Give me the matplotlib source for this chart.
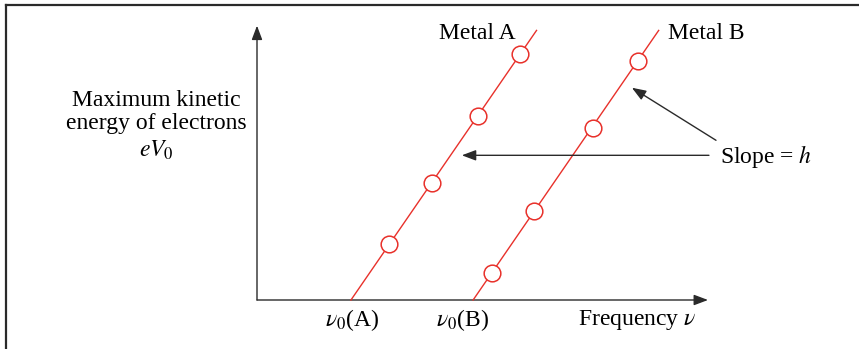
import matplotlib
matplotlib.use("Agg")
import matplotlib.pyplot as plt
from matplotlib.lines import Line2D

plt.rcParams['font.family'] = ['Liberation Serif', 'DejaVu Serif']
plt.rcParams['mathtext.fontset'] = 'stix'

# ---- data (arbitrary units, slope h = 1) ----
nu0_A = 2.0
nu0_B = 4.6
lineA_freq = [2.0, 5.95]
lineA_energy = [0.0, 3.95]
lineB_freq = [4.6, 8.55]
lineB_energy = [0.0, 3.95]
freqA = [2.82, 3.72, 4.70, 5.60]
energyA = [0.82, 1.72, 2.70, 3.60]
freqB = [5.0, 5.9, 7.15, 8.1]
energyB = [0.4, 1.3, 2.52, 3.5]
tick_labels = [r'$\nu_0$(A)', r'$\nu_0$(B)']

RED = '#e8312b'
DARK = '#2a2a2a'
FS = 17

fig = plt.figure(figsize=(8.59, 3.49), dpi=100)
ax = fig.add_axes([0, 0, 1, 1])
# pixel mapping: origin at (257, 300) px from top-left; 46.98 px / x-unit, 68.25 px / y-unit
px_x, px_y = 46.98, 68.25
ax.set_xlim(-257 / px_x, (859 - 257) / px_x)
ax.set_ylim(-49 / px_y, 300 / px_y)
ax.axis('off')

# frame lines (top and left)
fig.add_artist(Line2D([6 / 859, 6 / 859], [0, 1 - 5 / 349], transform=fig.transFigure,
                      color=DARK, lw=1.6))
fig.add_artist(Line2D([6 / 859, 1], [1 - 5 / 349, 1 - 5 / 349], transform=fig.transFigure,
                      color=DARK, lw=1.6))

axstyle = dict(arrowstyle='-|>,head_length=0.85,head_width=0.32', color=DARK, lw=1.0,
               mutation_scale=10, shrinkA=0, shrinkB=0)
# axes
ax.annotate('', xy=(9.6, 0), xytext=(0, 0), arrowprops=axstyle)
ax.annotate('', xy=(0, 4.02), xytext=(0, 0), arrowprops=axstyle)

# lines and points
ax.plot(lineA_freq, lineA_energy, color=RED, lw=1.0, zorder=3)
ax.plot(lineB_freq, lineB_energy, color=RED, lw=1.0, zorder=3)
ax.plot(freqA, energyA, 'o', ms=12, mfc='white', mec=RED, mew=1.1, zorder=4)
ax.plot(freqB, energyB, 'o', ms=12, mfc='white', mec=RED, mew=1.1, zorder=4)

# labels
ax.text(4.68, 3.91, 'Metal A', ha='center', va='center', fontsize=FS)
ax.text(9.56, 3.91, 'Metal B', ha='center', va='center', fontsize=FS)
ax.text(nu0_A + 0.02, -0.29, tick_labels[0], ha='center', va='center', fontsize=FS)
ax.text(nu0_B - 0.22, -0.29, tick_labels[1], ha='center', va='center', fontsize=FS)
ax.text(8.09, -0.29, r'Frequency $\nu$', ha='center', va='center', fontsize=FS)
ax.text(-2.15, 2.93, 'Maximum kinetic', ha='center', va='center', fontsize=FS)
ax.text(-2.15, 2.59, 'energy of electrons', ha='center', va='center', fontsize=FS)
ax.text(-2.15, 2.20, r'$eV_0$', ha='center', va='center', fontsize=FS)
ax.text(9.86, 2.10, r'Slope = $h$', ha='left', va='center', fontsize=FS)

# annotation arrows
ax.annotate('', xy=(4.36, 2.12), xytext=(9.62, 2.12), arrowprops=axstyle)
ax.annotate('', xy=(7.98, 3.11), xytext=(9.77, 2.34), arrowprops=axstyle)

fig.savefig('out.png', dpi=100, facecolor='white')
